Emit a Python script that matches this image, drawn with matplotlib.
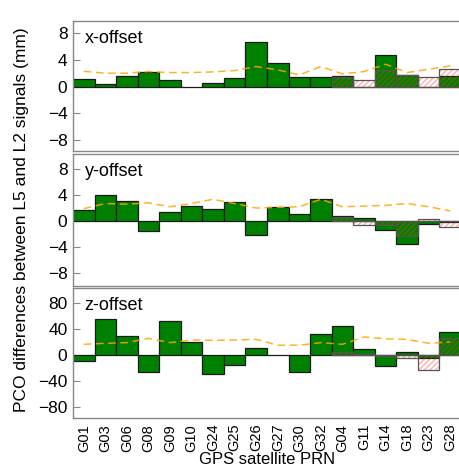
import numpy as np
import matplotlib
matplotlib.use("Agg")
import matplotlib.pyplot as plt

plt.rcParams["font.family"] = ["Liberation Sans", "DejaVu Sans"]

prns = ["G01", "G03", "G06", "G08", "G09", "G10", "G24", "G25", "G26",
        "G27", "G30", "G32", "G04", "G11", "G14", "G18", "G23", "G28"]
nan = np.nan

# PCO differences L5-L2 (mm), solution A (solid) and solution B (hatched, IIF/III only)
x_a = [1.2, 0.4, 1.6, 2.15, 1.0, -0.1, 0.5, 1.35, 6.7, 3.55, 1.4, 1.5,
       1.55, 0.0, 4.75, 1.75, 0.0, 1.6]
x_b = [nan] * 12 + [1.5, 1.0, 2.5, 1.7, 1.5, 2.65]
x_sd = [2.3, 2.0, 2.0, 2.25, 2.1, 2.1, 2.2, 2.4, 3.0, 2.5, 1.75, 3.0,
        1.9, 2.25, 3.35, 2.1, 2.6, 3.1]

y_a = [1.65, 3.95, 3.05, -1.55, 1.4, 2.25, 1.9, 3.0, -2.1, 2.15, 1.08, 3.4,
       0.77, 0.4, -1.45, -3.6, -0.5, -0.15]
y_b = [nan] * 12 + [0.6, -0.65, -0.55, -2.3, 0.25, -1.0]
y_sd = [1.9, 2.7, 2.6, 2.8, 2.2, 2.7, 3.35, 2.7, 2.0, 2.1, 2.2, 3.35,
        2.2, 2.3, 2.4, 2.7, 2.2, 1.55]

z_a = [-8.7, 55, 30, -27, 52, 20, -30, -15, 10.8, 0.5, -26, 32,
       44.6, 9.2, -16.4, 5, -4, 35]
z_b = [nan] * 12 + [5, 1.0, -1.0, -4.5, -22.6, 26]
z_sd = [16.4, 18, 19, 25.6, 19, 23, 22.6, 23, 24, 15, 15, 19,
        16.4, 27.7, 25, 24, 18, 20]

panels = [
    ("x-offset", x_a, x_b, x_sd, (-9.7, 9.9), [-8, -4, 0, 4, 8]),
    ("y-offset", y_a, y_b, y_sd, (-10, 10.3), [-8, -4, 0, 4, 8]),
    ("z-offset", z_a, z_b, z_sd, (-98, 103), [-80, -40, 0, 40, 80]),
]

W, H = 460, 470
fig = plt.figure(figsize=(W / 100, H / 100), dpi=100)
# pixel extents (top, bottom) of each panel
rows = [(20.7, 151.0), (154.3, 285.7), (288.3, 418.3)]
left, right = 73, 461

x = np.arange(len(prns))
axes = []
for (name, a, b, sd, ylim, yt), (top, bot) in zip(panels, rows):
    ax = fig.add_axes([left / W, 1 - bot / H, (right - left) / W, (bot - top) / H])
    ax.bar(x, a, width=1.0, color="green", edgecolor="#1a1a1a", linewidth=0.9, zorder=2)
    # hatched second solution drawn on top
    ax.bar(x, b, width=1.0, color="none", edgecolor=(1, 0.2, 0.2, 0.4),
           hatch="//////", linewidth=0, zorder=3)
    ax.bar(x, b, width=1.0, color="none", edgecolor="#555555", linewidth=0.9, zorder=3)
    ax.plot(x, sd, color="orange", linestyle=(0, (5, 3)), linewidth=1.1,
            alpha=0.85, zorder=4)
    ax.text(0.03, 0.93, name, transform=ax.transAxes, fontsize=13,
            va="top", ha="left")
    ax.set_xlim(-0.5, len(prns) - 0.5)
    ax.set_ylim(*ylim)
    ax.set_yticks(yt)
    ax.set_yticklabels([str(v).replace("-", "\u2212") for v in yt])
    ax.tick_params(axis="y", direction="in", length=5, color="#888888",
                   labelsize=12.5, pad=4)
    ax.tick_params(axis="x", length=0)
    for s in ax.spines.values():
        s.set_color("#888888")
        s.set_linewidth(1.0)
    ax.set_xticks(x)
    ax.set_xticklabels([])
    axes.append(ax)

axes[-1].set_xticklabels(prns, rotation=90, fontsize=10.5)
axes[-1].tick_params(axis="x", pad=4)
axes[-1].set_xlabel("GPS satellite PRN", fontsize=12, labelpad=0)

fig.text(22 / W, 1 - 220 / H, "PCO differences between L5 and L2 signals (mm)",
         rotation=90, ha="center", va="center", fontsize=12.5)

fig.savefig("out.png", dpi=100)
